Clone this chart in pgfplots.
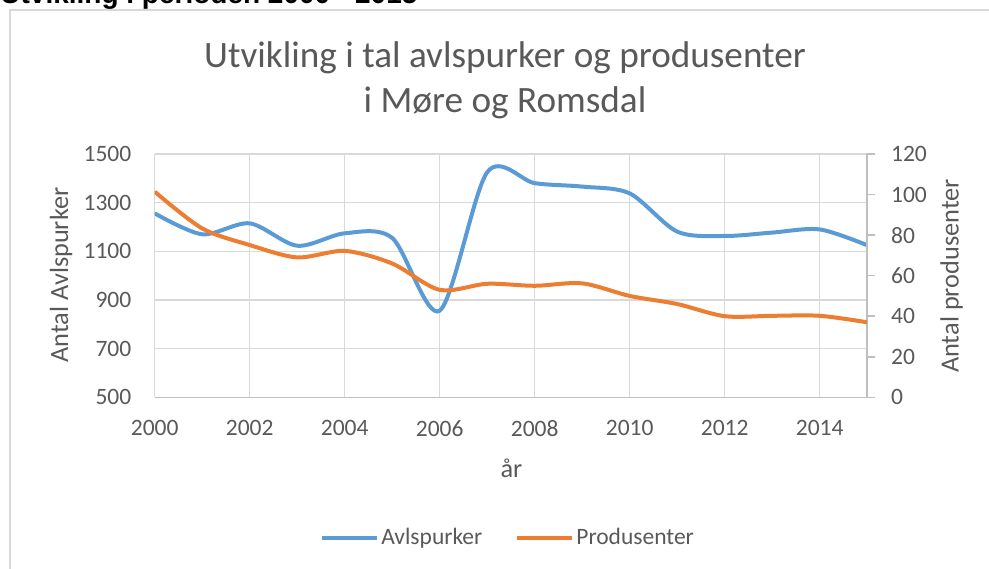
\documentclass[border=0pt]{standalone}
\usepackage{pgfplots}
\pgfplotsset{compat=1.18}
\usepackage{fontspec}
\setmainfont{Carlito}
\newfontfamily\arialfont{Liberation Sans}
\definecolor{avblue}{HTML}{5B9BD5}
\definecolor{prorange}{HTML}{ED7D31}
\definecolor{txtgray}{HTML}{595959}
\definecolor{gridgray}{HTML}{D9D9D9}
\definecolor{axgray}{HTML}{BFBFBF}
\pgfplotstableread{
year value
2000 1256
2001 1170
2002 1215
2003 1123
2004 1174
2005 1155
2006 856
2007 1425
2008 1380
2009 1366
2010 1338
2011 1181
2012 1163
2013 1177
2014 1190
2015 1125
}\avlspurker
\pgfplotstableread{
year value
2000 101.4
2001 83.3
2002 75.1
2003 69.0
2004 72.2
2005 66.0
2006 53.0
2007 56.0
2008 55.0
2009 56.2
2010 50.0
2011 46.0
2012 40.0
2013 40.2
2014 40.2
2015 37.0
}\produsenter
\begin{document}
\begin{tikzpicture}
\useasboundingbox (0pt,0pt) rectangle (494.5pt,284pt);
% chart border
\draw[gridgray, line width=0.75pt] (5pt,-20pt) rectangle (520pt,279pt);
% heading (cut off at top, as in the reference)
\node[anchor=base west, inner sep=0pt, text=black] at (0pt,282pt) {\arialfont\bfseries\fontsize{14}{16}\selectfont Utvikling i perioden 2000 - 2015};
% title
\node[text=txtgray, inner sep=0pt] at (252.5pt,255pt) {\fontsize{18.6}{22}\selectfont Utvikling i tal avlspurker og produsenter};
\node[text=txtgray, inner sep=0pt] at (252.5pt,232.5pt) {\fontsize{18.6}{22}\selectfont i Møre og Romsdal};
% axis titles
\node[text=txtgray, inner sep=0pt, rotate=90] at (30.5pt,146.5pt) {\fontsize{13.15}{16}\selectfont Antal Avlspurker};
\node[text=txtgray, inner sep=0pt, rotate=90] at (475.85pt,146pt) {\fontsize{13.15}{16}\selectfont Antal produsenter};
\node[text=txtgray, inner sep=0pt] at (255.75pt,50pt) {\fontsize{13.15}{16}\selectfont år};
\begin{axis}[
  at={(77.35pt,85.35pt)}, anchor=south west,
  scale only axis, width=356.25pt, height=121.65pt,
  xmin=2000, xmax=2015, ymin=500, ymax=1500,
  xtick={2000,2002,...,2014}, ytick={500,700,...,1500},
  /pgf/number format/1000 sep={},
  /pgf/number format/assume math mode=true,
  grid=major, grid style={draw=gridgray, line width=0.6pt},
  axis x line*=bottom, axis y line*=left,
  x axis line style={draw=axgray, line width=0.75pt, -},
  y axis line style={draw=none, -},
  major tick length=0pt,
  tick style={draw=none},
  ticklabel style={font=\fontsize{11.75}{14}\selectfont, text=txtgray},
  yticklabel style={anchor=east, inner sep=0pt, xshift=-11.5pt},
  xticklabel style={anchor=north, inner sep=0pt, yshift=-11.5pt},
]
\addplot[color=avblue, line width=2pt, smooth, no markers] table[x=year, y=value] {\avlspurker};
\end{axis}
\begin{axis}[
  at={(77.35pt,85.35pt)}, anchor=south west,
  scale only axis, width=356.25pt, height=121.65pt,
  xmin=2000, xmax=2015, ymin=0, ymax=120,
  ytick={0,20,...,120},
  /pgf/number format/assume math mode=true,
  hide x axis,
  axis y line*=right,
  y axis line style={draw=axgray, line width=0.75pt, -},
  tick style={draw=axgray, line width=0.75pt},
  major tick length=4pt, tick align=outside,
  ticklabel style={font=\fontsize{11.75}{14}\selectfont, text=txtgray},
  yticklabel style={anchor=west, inner sep=0pt, xshift=7.75pt},
  legend style={at={(0.496,-0.578)}, anchor=center, draw=none, fill=none,
    legend columns=2, font=\fontsize{11.75}{14}\selectfont, text=txtgray,
    /tikz/every even column/.append style={column sep=15.5pt},
    nodes={inner sep=1pt}},
  legend image code/.code={\draw[#1] (0pt,0pt) -- (27.5pt,0pt);},
]
\addlegendimage{color=avblue, line width=2pt}
\addlegendentry{Avlspurker}
\addplot[color=prorange, line width=2pt, smooth, no markers] table[x=year, y=value] {\produsenter};
\addlegendentry{Produsenter}
\end{axis}
\end{tikzpicture}
\end{document}
